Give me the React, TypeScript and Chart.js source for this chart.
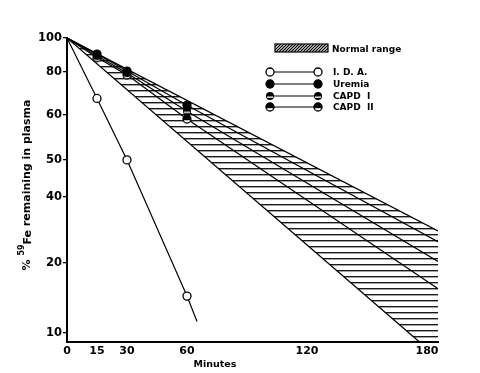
import React, { useEffect, useRef } from 'react';
import { Chart, registerables, LinearScale } from 'chart.js';

Chart.register(...registerables);

// ---- data (minutes, % 59Fe remaining) ----
const IDA_MIN = [0, 15, 30, 60, 65];
const IDA_PCT = [100, 67, 50, 14.4, 11.2];
const UREMIA_MIN = [0, 15, 30, 60, 185.5];
const UREMIA_PCT = [100, 90, 80.5, 64, 25];
const CAPD1_MIN = [0, 15, 30, 60, 185.5];
const CAPD1_PCT = [100, 89, 79.5, 61.5, 20.3];
const CAPD2_MIN = [0, 15, 30, 60, 185.5];
const CAPD2_PCT = [100, 88, 78.5, 59, 15.5];
const NORMAL_MIN = [0, 185.5];
const NORMAL_UPPER = [100, 28];
const NORMAL_LOWER = [100, 7.8];
const MARKER_SHOWN = [false, true, true, true, false];

const X_TICKS = [0, 15, 30, 60, 120, 180];
const Y_TICKS = [10, 20, 40, 50, 60, 80, 100];
const SERIES_LABELS = ['I. D. A.', 'Uremia', 'CAPD  I', 'CAPD  II'];
const NORMAL_LABEL = 'Normal range';
const X_TITLE = 'Minutes';
const Y_TITLE_PARTS = ['% ', '59', 'Fe', ' remaining in plasma'];

// axis drawing: relative height of each Y tick along the (hand-drawn) axis
const Y_AXIS_WARP = [0.03, 0.26, 0.477, 0.599, 0.747, 0.888, 1.0];

function warpF(v: number): number {
  const n = Y_TICKS.length;
  let i = 0;
  while (i < n - 2 && v > Y_TICKS[i + 1]) i++;
  const a = Math.log(Y_TICKS[i]);
  const b = Math.log(Y_TICKS[i + 1]);
  return Y_AXIS_WARP[i] + ((Math.log(Math.max(v, 1e-6)) - a) / (b - a)) * (Y_AXIS_WARP[i + 1] - Y_AXIS_WARP[i]);
}
function warpInv(f: number): number {
  const n = Y_TICKS.length;
  let i = 0;
  while (i < n - 2 && f > Y_AXIS_WARP[i + 1]) i++;
  const a = Math.log(Y_TICKS[i]);
  const b = Math.log(Y_TICKS[i + 1]);
  return Math.exp(a + ((f - Y_AXIS_WARP[i]) / (Y_AXIS_WARP[i + 1] - Y_AXIS_WARP[i])) * (b - a));
}

class WarpedLogScale extends LinearScale {
  static id = 'warpedlog';
  buildTicks() {
    return Y_TICKS.map((v) => ({ value: v }));
  }
  getPixelForValue(value: number) {
    const f0 = warpF(this.min);
    const f1 = warpF(this.max);
    return this.getPixelForDecimal((warpF(value) - f0) / (f1 - f0));
  }
  getValueForPixel(pixel: number) {
    const f0 = warpF(this.min);
    const f1 = warpF(this.max);
    return warpInv(f0 + this.getDecimalForPixel(pixel) * (f1 - f0));
  }
}
Chart.register(WarpedLogScale as any);

const R = 4;
function makeMarker(kind: string): HTMLCanvasElement {
  const c = document.createElement('canvas');
  c.width = 12;
  c.height = 12;
  const g = c.getContext('2d')!;
  g.lineWidth = 1.3;
  g.strokeStyle = '#000';
  g.beginPath();
  g.arc(6, 6, R, 0, Math.PI * 2);
  if (kind === 'capd1') {
    g.fillStyle = '#000';
    g.fill();
    g.fillStyle = '#fff';
    g.fillRect(3, 6.5, 6, 1.3);
  } else {
    g.fillStyle = '#fff';
    g.fill();
    g.stroke();
    g.fillStyle = '#000';
    g.fillRect(2, 5, 8, 2.2);
    g.beginPath();
    g.arc(6, 6, R, Math.PI, Math.PI * 2);
    g.fill();
  }
  return c;
}

function pts(xs: number[], ys: number[]) {
  return xs.map((x, i) => ({ x, y: ys[i] }));
}

export default function App() {
  const ref = useRef<HTMLCanvasElement | null>(null);

  useEffect(() => {
    document.body.style.margin = '0';
    const canvas = ref.current!;
    const ctx = canvas.getContext('2d')!;

    const pc = document.createElement('canvas');
    pc.width = 8;
    pc.height = 6;
    const pg = pc.getContext('2d')!;
    pg.fillStyle = 'rgba(0,0,0,0.9)';
    pg.fillRect(0, 0, 8, 1.4);
    const hatch = ctx.createPattern(pc, 'repeat')!;

    const capd1 = makeMarker('capd1');
    const capd2 = makeMarker('capd2');
    const radii = MARKER_SHOWN.map((s) => (s ? R : 0));

    const font = 'DejaVu Sans';

    const legendPlugin = {
      id: 'customDecor',
      afterDraw(chart: any) {
        const c: CanvasRenderingContext2D = chart.ctx;
        c.save();
        c.fillStyle = '#000';
        c.strokeStyle = '#000';
        // legend: normal range box
        const bx = 275, by = 44, bw = 53, bh = 8;
        c.save();
        c.beginPath();
        c.rect(bx, by, bw, bh);
        c.clip();
        c.lineWidth = 1.2;
        for (let x = bx - bh; x < bx + bw + bh; x += 3) {
          c.beginPath();
          c.moveTo(x, by + bh);
          c.lineTo(x + bh, by);
          c.stroke();
        }
        c.restore();
        c.lineWidth = 1.2;
        c.strokeRect(bx, by, bw, bh);
        c.font = `bold 9px "${font}"`;
        c.textBaseline = 'middle';
        c.textAlign = 'left';
        c.fillText(NORMAL_LABEL, 332, 50);

        const rows = [72, 84, 96, 107];
        rows.forEach((y, i) => {
          c.lineWidth = 1.2;
          c.beginPath();
          c.moveTo(270, y);
          c.lineTo(318, y);
          c.stroke();
          [270, 318].forEach((x) => {
            if (i === 0 || i === 1) {
              c.beginPath();
              c.arc(x, y, R, 0, Math.PI * 2);
              c.fillStyle = i === 0 ? '#fff' : '#000';
              c.fill();
              c.lineWidth = 1.3;
              c.stroke();
            } else {
              const m = i === 2 ? capd1 : capd2;
              c.drawImage(m, x - 6, y - 6);
            }
          });
          c.fillStyle = '#000';
          c.fillText(SERIES_LABELS[i], 333, y + 0.5);
        });

        // x title
        c.font = `bold 9.5px "${font}"`;
        c.textAlign = 'center';
        c.textBaseline = 'middle';
        c.fillText(X_TITLE, 215, 365);

        // y title (rotated)
        c.translate(27, 185);
        c.rotate(-Math.PI / 2);
        c.textAlign = 'left';
        c.textBaseline = 'middle';
        const big = `bold 11px "${font}"`;
        const small = `bold 8px "${font}"`;
        const fonts = [big, small, big, big];
        const offs = [0, -5, 1, 0];
        let total = 0;
        Y_TITLE_PARTS.forEach((t, i) => {
          c.font = fonts[i];
          total += c.measureText(t).width;
        });
        let x = -total / 2;
        Y_TITLE_PARTS.forEach((t, i) => {
          c.font = fonts[i];
          c.fillText(t, x, offs[i]);
          x += c.measureText(t).width;
        });
        c.restore();
      },
    };

    const lineBase = {
      borderColor: '#000',
      backgroundColor: '#000',
      pointBorderColor: '#000',
      pointBorderWidth: 1.3,
      tension: 0,
      fill: false,
    };

    const chart = new Chart(ctx, {
      type: 'line',
      data: {
        datasets: [
          {
            ...lineBase,
            label: SERIES_LABELS[0],
            data: pts(IDA_MIN, IDA_PCT),
            borderWidth: 1.2,
            pointRadius: radii,
            pointBackgroundColor: '#fff',
          },
          {
            ...lineBase,
            label: SERIES_LABELS[1],
            data: pts(UREMIA_MIN, UREMIA_PCT),
            borderWidth: 1.2,
            pointRadius: radii,
            pointBackgroundColor: '#000',
          },
          {
            ...lineBase,
            label: SERIES_LABELS[2],
            data: pts(CAPD1_MIN, CAPD1_PCT),
            borderWidth: 1.2,
            pointRadius: radii,
            pointStyle: capd1,
          },
          {
            ...lineBase,
            label: SERIES_LABELS[3],
            data: pts(CAPD2_MIN, CAPD2_PCT),
            borderWidth: 1.2,
            pointRadius: radii,
            pointStyle: capd2,
          },
          {
            ...lineBase,
            label: NORMAL_LABEL,
            data: pts(NORMAL_MIN, NORMAL_UPPER),
            borderWidth: 1.3,
            pointRadius: 0,
            backgroundColor: hatch,
            fill: '+1',
          },
          {
            ...lineBase,
            label: NORMAL_LABEL + ' (lower)',
            data: pts(NORMAL_MIN, NORMAL_LOWER),
            borderWidth: 1.3,
            pointRadius: 0,
          },
        ],
      },
      options: {
        animation: false,
        responsive: false,
        events: [],
        layout: { padding: { top: 38, right: 42, left: 0, bottom: 0 } },
        plugins: {
          legend: { display: false },
          tooltip: { enabled: false },
          title: { display: false },
        },
        scales: {
          x: {
            type: 'linear',
            min: 0,
            max: 185.5,
            afterBuildTicks: (s: any) => {
              s.ticks = X_TICKS.map((v) => ({ value: v }));
            },
            afterFit: (s: any) => {
              s.height = 31;
            },
            grid: { display: false, drawTicks: false, tickLength: 0 },
            border: { display: true, color: '#000', width: 2 },
            ticks: {
              autoSkip: false,
              maxRotation: 0,
              padding: 3,
              color: '#000',
              font: { family: font, size: 11, weight: 'bold' },
              callback: (v: any) => String(v),
            },
          },
          y: {
            type: 'warpedlog' as any,
            min: warpInv(0),
            max: 100,
            afterFit: (s: any) => {
              s.width = 67;
            },
            grid: { drawOnChartArea: false, color: '#000', tickLength: 4, lineWidth: 1.3 },
            border: { display: true, color: '#000', width: 2 },
            ticks: {
              autoSkip: false,
              padding: 1,
              color: '#000',
              font: { family: font, size: 11.5, weight: 'bold' },
              callback: (v: any) => String(v),
            },
          },
        },
      },
      plugins: [legendPlugin],
    } as any);

    return () => chart.destroy();
  }, []);

  return (
    <div style={{ width: 480, height: 373, background: '#fff' }}>
      <canvas ref={ref} width={480} height={373} />
    </div>
  );
}
